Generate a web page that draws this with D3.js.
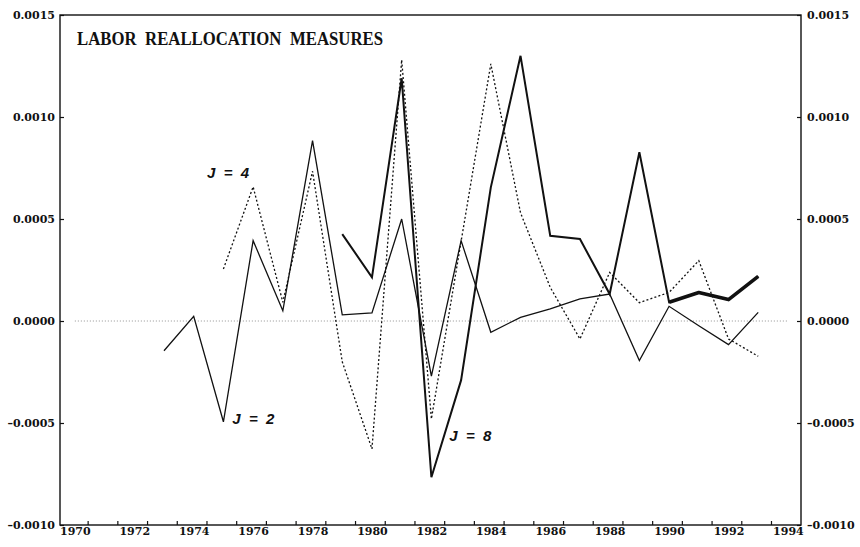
<!DOCTYPE html>
<html>
<head>
<meta charset="utf-8">
<script src="https://cdn.jsdelivr.net/npm/d3@7"></script>
<style>
  html, body { margin: 0; padding: 0; background: #fff; }
  svg { display: block; }
  .tick-label { font-family: "DejaVu Serif", serif; font-weight: bold; font-size: 11px; fill: #111; }
  .jlabel { font-family: "Liberation Sans", Arial, sans-serif; font-weight: bold; font-style: italic; font-size: 15px; fill: #111; white-space: pre; }
  .title { font-family: "Liberation Serif", "Times New Roman", serif; font-weight: bold; font-size: 19px; word-spacing: 5px; fill: #111; white-space: pre; }
</style>
</head>
<body>
<svg id="chart" width="860" height="547"></svg>
<script>
// ---- data ----
const yearsJ2 = [1973,1974,1975,1976,1977,1978,1979,1980,1981,1982,1983,1984,1985,1986,1987,1988,1989,1990,1991,1992,1993];
const valuesJ2 = [-0.000146,0.000023,-0.000494,0.000394,0.00005,0.000884,0.00003,0.00004,0.0005,-0.00027,0.000394,-0.000055,0.000018,0.000059,0.000108,0.000132,-0.000194,0.000072,-0.000023,-0.000116,0.000042];

const yearsJ4 = [1975,1976,1977,1978,1979,1980,1981,1982,1983,1984,1985,1986,1987,1988,1989,1990,1991,1992,1993];
const valuesJ4 = [0.000255,0.000658,0.000092,0.000734,-0.0002,-0.000627,0.00128,-0.00048,0.00039,0.00126,0.00053,0.000165,-0.000088,0.000238,0.00009,0.00014,0.000296,-0.000088,-0.000173];

const yearsJ8 = [1979,1980,1981,1982,1983,1984,1985,1986,1987,1988,1989,1990,1991,1992,1993];
const valuesJ8 = [0.000426,0.000214,0.00119,-0.000766,-0.00029,0.000655,0.0013,0.000418,0.000402,0.000132,0.000827,0.000092,0.00014,0.000105,0.000219];

const xTickYears = d3.range(1970, 1994);          // minor ticks (offset half-year)
const xLabelYears = d3.range(1970, 1995, 2);      // 1970 ... 1994
const yTicks = [-0.0010, -0.0005, 0.0000, 0.0005, 0.0010, 0.0015];
const yTickLabels = ["\u20130.0010", "\u20130.0005", "0.0000", "0.0005", "0.0010", "0.0015"];
const titleText = "LABOR REALLOCATION MEASURES";
const seriesLabels = [
  { text: "J  =  4", year: 1974.45, value: 0.00070 },
  { text: "J  =  2", year: 1975.3, value: -0.000505 },
  { text: "J  =  8", year: 1982.6, value: -0.00059 }
];

// ---- layout ----
const svg = d3.select("#chart");
const mLeft = 60, mRight = 801, mTop = 15, mBottom = 525;

const x = d3.scaleLinear().domain([1969.5, 1994.44]).range([mLeft, mRight]);
const y = d3.scaleLinear().domain([-0.0010, 0.0015]).range([mBottom, mTop]);

// zero reference line (fine dotted)
svg.append("line")
  .attr("x1", x(1970)).attr("x2", x(1994))
  .attr("y1", y(0)).attr("y2", y(0))
  .attr("stroke", "#777").attr("stroke-width", 0.8)
  .attr("stroke-dasharray", "1,2");

// frame
svg.append("rect")
  .attr("x", mLeft).attr("y", mTop)
  .attr("width", mRight - mLeft).attr("height", mBottom - mTop)
  .attr("fill", "none").attr("stroke", "#111").attr("stroke-width", 1.4);

// y axes (left & right), ticks inside
const yAxisL = d3.axisLeft(y).tickValues(yTicks).tickSize(-4).tickPadding(5)
  .tickFormat((d, i) => yTickLabels[i]);
const gL = svg.append("g").attr("transform", `translate(${mLeft},0)`).call(yAxisL);
gL.select(".domain").remove();
gL.selectAll("text").attr("class", "tick-label").attr("dy", "0.35em");
gL.selectAll("line").attr("stroke", "#111").attr("stroke-width", 1.2);

const yAxisR = d3.axisRight(y).tickValues(yTicks).tickSize(-4).tickPadding(6)
  .tickFormat((d, i) => yTickLabels[i]);
const gR = svg.append("g").attr("transform", `translate(${mRight},0)`).call(yAxisR);
gR.select(".domain").remove();
gR.selectAll("text").attr("class", "tick-label").attr("dy", "0.35em");
gR.selectAll("line").attr("stroke", "#111").attr("stroke-width", 1.2);

// x axis: minor tick marks (inside) and year labels
const xTickAxis = d3.axisBottom(x).tickValues(xTickYears.map(v => v + 0.43)).tickSize(-4).tickFormat("");
const gXt = svg.append("g").attr("transform", `translate(0,${mBottom})`).call(xTickAxis);
gXt.select(".domain").remove();
gXt.selectAll("line").attr("stroke", "#111").attr("stroke-width", 1.2);

const xLabelAxis = d3.axisBottom(x).tickValues(xLabelYears).tickSize(0).tickPadding(2).tickFormat(d3.format("d"));
const gXl = svg.append("g").attr("transform", `translate(0,${mBottom})`).call(xLabelAxis);
gXl.select(".domain").remove();
gXl.selectAll("text").attr("class", "tick-label");

// series
const line = d3.line().x(d => x(d[0])).y(d => y(d[1]));
const zip = (a, b) => a.map((v, i) => [v, b[i]]);

const dJ2 = zip(yearsJ2, valuesJ2);
const dJ4 = zip(yearsJ4, valuesJ4);
const dJ8 = zip(yearsJ8, valuesJ8);

svg.append("path").datum(dJ4).attr("d", line)
  .attr("fill", "none").attr("stroke", "#111").attr("stroke-width", 1.3)
  .attr("stroke-dasharray", "2,2.2");

svg.append("path").datum(dJ2).attr("d", line)
  .attr("fill", "none").attr("stroke", "#111").attr("stroke-width", 1.3)
  .attr("stroke-linejoin", "miter");

svg.append("path").datum(dJ8).attr("d", line)
  .attr("fill", "none").attr("stroke", "#111").attr("stroke-width", 2)
  .attr("stroke-linejoin", "miter");

svg.append("path").datum(dJ8.filter(d => d[0] >= 1990)).attr("d", line)
  .attr("fill", "none").attr("stroke", "#111").attr("stroke-width", 3.6)
  .attr("stroke-linejoin", "round");

// series labels
svg.selectAll("text.jlabel").data(seriesLabels).enter().append("text")
  .attr("class", "jlabel")
  .attr("x", d => x(d.year)).attr("y", d => y(d.value))
  .text(d => d.text);

// title
svg.append("text").attr("class", "title")
  .attr("x", 77).attr("y", 45)
  .attr("textLength", 306).attr("lengthAdjust", "spacingAndGlyphs")
  .text(titleText);
</script>
</body>
</html>
